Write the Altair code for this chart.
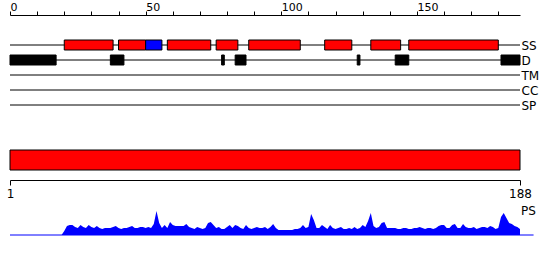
import altair as alt
import pandas as pd

FONT = "DejaVu Sans"

# ---------------- data ----------------
tracks = ["SS", "D", "TM", "CC", "SP"]
seq_len = 188

# secondary structure segments (residue start-1, residue end)
ss_start = [20, 40, 50, 58, 76, 88, 116, 133, 147]
ss_end = [38, 50, 56, 74, 84, 107, 126, 144, 180]
ss_type = ["H", "H", "E", "H", "H", "H", "H", "H", "H"]

# disordered segments
d_start = [0, 37, 78, 83, 128, 142, 181]
d_end = [17, 42, 79, 87, 129, 147, 188]

# PS profile, residues 1..188
ps_values = (
    [0] * 19
    + [4, 9, 10, 10, 8, 7, 10, 8, 7, 10,
       8, 7, 9, 7, 6, 7, 7, 7, 8, 9,
       7, 6, 7, 7, 8, 9, 7, 7, 8, 8,
       7, 8, 7, 11, 24, 12, 7, 10, 7, 13,
       10, 9, 9, 9, 9, 11, 8, 7, 6, 8,
       7, 6, 7, 12, 13, 10, 7, 8, 6, 6,
       8, 10, 7, 10, 9, 7, 6, 10, 7, 6,
       7, 8, 7, 7, 8, 6, 8, 11, 7, 5,
       5, 5, 5, 5, 5, 6, 6, 7, 10, 7,
       8, 21, 15, 7, 7, 10, 8, 6, 10, 7,
       6, 7, 8, 6, 6, 7, 6, 8, 6, 7,
       10, 8, 14, 22, 9, 7, 8, 12, 13, 7,
       7, 7, 7, 6, 6, 7, 7, 6, 6, 7,
       7, 8, 7, 6, 7, 7, 6, 7, 9, 10,
       10, 7, 7, 10, 11, 7, 7, 11, 8, 7,
       7, 8, 6, 7, 8, 8, 7, 9, 8, 6,
       7, 18, 22, 17, 12, 11, 9, 8, 6]
)
ps_positions = list(range(1, len(ps_values) + 1))

bottom_ticks = [1, 188]
top_ticks = list(range(0, 181, 10))
top_labels = ["0", "50", "100", "150"]

# ---------------- tables ----------------
df_lines = pd.DataFrame({"track": tracks, "start": 0, "end": seq_len})
df_ss = pd.DataFrame({"track": "SS", "start": ss_start, "end": ss_end, "type": ss_type})
df_d = pd.DataFrame({"track": "D", "start": d_start, "end": d_end})
df_bar = pd.DataFrame({"start": [1], "end": [seq_len]})
df_ps = pd.DataFrame({"pos": ps_positions, "ps": ps_values})
df_base = pd.DataFrame({"start": [0], "end": [193]})

W = 510

xs = alt.Scale(domain=[0, seq_len], nice=False, zero=False)
ys = alt.Scale(domain=tracks, type="point", range=[30, 90], padding=0)

label_test = " || ".join(f"datum.label == '{t}'" for t in top_labels)
top_axis = alt.Axis(
    orient="top", values=top_ticks,
    labelExpr=f"({label_test}) ? datum.label : ''",
    labelAlign="left", labelBaseline="alphabetic", tickSize=4, labelPadding=0.5,
    labelFont=FONT, labelFontSize=11, labelColor="black",
    domainColor="black", tickColor="black", grid=False, title=None,
    labelFlush=False, labelOverlap=False, labelBound=False,
)
y_axis = alt.Axis(
    orient="right", domain=False, ticks=False, labelPadding=1,
    labelFont=FONT, labelFontSize=12, labelColor="black", title=None,
    labelAlign="left", labelBaseline="middle",
)

X = alt.X("start:Q", scale=xs, axis=top_axis)
Y = alt.Y("track:N", scale=ys, sort=tracks, axis=y_axis)

lines = alt.Chart(df_lines).mark_rule(color="black", strokeWidth=1).encode(
    x=X, x2="end:Q", y=Y,
)
ss = alt.Chart(df_ss).mark_bar(size=10, stroke="black", strokeWidth=1).encode(
    x=X, x2="end:Q", y=Y,
    color=alt.Color("type:N", scale=alt.Scale(domain=["H", "E"], range=["#ff0000", "#0000ff"]), legend=None),
)
dis = alt.Chart(df_d).mark_bar(size=10, color="black", stroke="black", strokeWidth=1).encode(
    x=X, x2="end:Q", y=Y,
)
p1 = alt.layer(lines, ss, dis).properties(width=W, height=120)

bottom_axis = alt.Axis(
    orient="bottom", values=bottom_ticks, offset=10, tickSize=5, labelPadding=3,
    labelFont=FONT, labelFontSize=12, labelColor="black",
    domainColor="black", tickColor="black", grid=False, title=None,
    labelFlush=False, labelOverlap=False,
)
p2 = alt.Chart(df_bar).mark_rect(color="#ff0000", stroke="black", strokeWidth=1).encode(
    x=alt.X("start:Q", scale=alt.Scale(domain=[1, seq_len], nice=False, zero=False), axis=bottom_axis),
    x2="end:Q",
).properties(width=W, height=20)

ys_ps = alt.Scale(domain=[0, 50], nice=False)
area = alt.Chart(df_ps).mark_area(color="#0000ff").encode(
    x=alt.X("pos:Q", scale=xs, axis=None),
    y=alt.Y("ps:Q", scale=ys_ps, axis=None),
)
base = alt.Chart(df_base).mark_rule(color="#0000ff", strokeWidth=1).encode(
    x=alt.X("start:Q", scale=xs, axis=None), x2="end:Q", y=alt.datum(0),
)
ps_label = alt.Chart(df_bar).mark_text(
    text="PS", align="left", baseline="middle", dx=1, font=FONT, fontSize=12, color="black"
).encode(x=alt.datum(seq_len), y=alt.datum(24))
p3 = alt.layer(area, base, ps_label).properties(width=W, height=50)

chart = alt.vconcat(p1, p2, p3, spacing=15, bounds="flush").properties(
    padding={"left": 6, "top": 1, "right": 0, "bottom": 0},
    background="white",
).configure_view(stroke=None)

chart.save("out.html", embed_options={"renderer": "svg", "actions": False})
